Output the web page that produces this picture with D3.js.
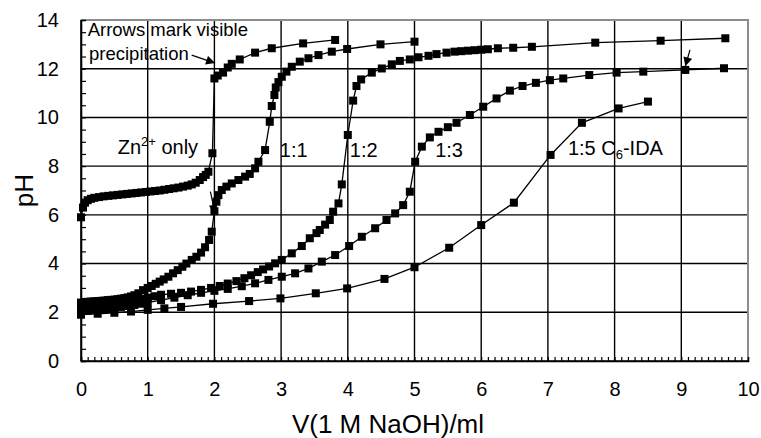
<!DOCTYPE html>
<html>
<head>
<meta charset="utf-8">
<script src="https://cdn.jsdelivr.net/npm/d3@7"></script>
<style>
  body { margin: 0; background: #fff }
  svg { display: block; font-family: "Liberation Sans", Arial, sans-serif }
</style>
</head>
<body>
<svg width="761" height="438"></svg>
<script>
// titration curves, pH vs volume of 1 M NaOH
var znX  = [0, 0.03, 0.06, 0.1, 0.15, 0.2, 0.27, 0.34, 0.41, 0.48, 0.55, 0.62, 0.69, 0.76, 0.83, 0.9, 0.97, 1.04, 1.11, 1.18, 1.25, 1.32, 1.39, 1.46, 1.53, 1.6, 1.66, 1.72, 1.78, 1.83, 1.87, 1.91, 1.97,
            2.0, 2.05, 2.13, 2.2, 2.26, 2.38, 2.61, 2.86, 3.33, 3.81]
var znY  = [5.9, 6.3, 6.5, 6.6, 6.66, 6.7, 6.73, 6.76, 6.78, 6.8, 6.82, 6.84, 6.86, 6.88, 6.9, 6.92, 6.94, 6.96, 6.98, 7.0, 7.03, 7.06, 7.09, 7.12, 7.16, 7.2, 7.25, 7.32, 7.43, 7.55, 7.64, 7.77, 8.53,
            11.6, 11.72, 11.84, 12.05, 12.2, 12.38, 12.66, 12.84, 13.04, 13.18]

var r1X = [0, 0.05, 0.1, 0.15, 0.2, 0.25, 0.3, 0.35, 0.4, 0.45, 0.5, 0.55, 0.6, 0.65, 0.7, 0.75, 0.8, 0.86, 0.93, 1.0, 1.06, 1.12, 1.18, 1.24, 1.31, 1.38, 1.45, 1.52, 1.58, 1.66, 1.73, 1.8, 1.86, 1.92, 1.96,
           2.0, 2.03, 2.06, 2.11, 2.18, 2.26, 2.36, 2.46, 2.53, 2.61, 2.66, 2.76, 2.83, 2.86, 2.9, 2.92, 2.96, 3.01, 3.08, 3.16, 3.28, 3.41, 3.56, 3.76, 3.99, 4.49, 5.0]
var r1Y = [2.4, 2.42, 2.43, 2.44, 2.45, 2.46, 2.47, 2.48, 2.5, 2.51, 2.52, 2.54, 2.56, 2.58, 2.61, 2.65, 2.7, 2.78, 2.91, 3.0, 3.08, 3.17, 3.26, 3.35, 3.46, 3.6, 3.73, 3.87, 4.0, 4.15, 4.28, 4.45, 4.67, 4.97, 5.31,
           6.15, 6.54, 6.81, 7.02, 7.16, 7.29, 7.43, 7.57, 7.68, 7.91, 8.18, 8.66, 9.82, 10.47, 10.92, 11.23, 11.45, 11.67, 11.88, 12.08, 12.29, 12.43, 12.56, 12.7, 12.81, 13.0, 13.11]

var r2X = [0, 0.1, 0.2, 0.3, 0.4, 0.5, 0.6, 0.7, 0.8, 0.9, 1.0, 1.1, 1.2, 1.35, 1.5, 1.65, 1.8, 1.95, 2.08, 2.2, 2.33, 2.45, 2.55, 2.65, 2.73, 2.82, 2.91, 3.01, 3.16, 3.31, 3.43, 3.53, 3.58, 3.66, 3.73, 3.78, 3.86, 3.91,
           4.0, 4.08, 4.13, 4.2, 4.36, 4.51, 4.66, 4.78, 4.93, 5.06, 5.21, 5.33, 5.48, 5.6, 5.7, 5.8, 5.9, 6.0, 6.1, 6.25, 6.48, 6.76, 7.71, 8.69, 9.66]
var r2Y = [2.3, 2.32, 2.34, 2.36, 2.38, 2.4, 2.43, 2.46, 2.5, 2.55, 2.6, 2.66, 2.72, 2.76, 2.8, 2.85, 2.92, 3.0, 3.08, 3.18, 3.28, 3.4, 3.52, 3.65, 3.76, 3.88, 4.01, 4.15, 4.42, 4.72, 5.04, 5.25, 5.38, 5.6, 5.79, 6.13, 6.47, 7.25,
           9.28, 10.69, 11.29, 11.56, 11.84, 12.01, 12.18, 12.32, 12.38, 12.47, 12.53, 12.6, 12.66, 12.7, 12.72, 12.74, 12.76, 12.78, 12.8, 12.84, 12.86, 12.9, 13.07, 13.15, 13.25]

var r3X = [0, 0.1, 0.2, 0.3, 0.4, 0.5, 0.6, 0.7, 0.8, 0.9, 1.0, 1.2, 1.4, 1.6, 1.8, 2.0, 2.2, 2.41, 2.61, 2.81, 3.01, 3.21, 3.41, 3.61, 3.81, 4.02, 4.21, 4.41, 4.58, 4.71, 4.83, 4.93,
           5.01, 5.11, 5.23, 5.36, 5.5, 5.63, 5.83, 6.03, 6.23, 6.43, 6.62, 6.82, 7.03, 7.23, 7.62, 8.03, 8.43, 9.06, 9.64]
var r3Y = [2.05, 2.07, 2.1, 2.12, 2.15, 2.18, 2.22, 2.26, 2.3, 2.35, 2.4, 2.5, 2.6, 2.7, 2.8, 2.88, 2.96, 3.07, 3.19, 3.33, 3.46, 3.6, 3.8, 4.08, 4.35, 4.72, 5.1, 5.45, 5.79, 6.06, 6.4, 6.95,
           8.18, 8.8, 9.18, 9.41, 9.6, 9.78, 10.1, 10.44, 10.78, 11.1, 11.29, 11.42, 11.53, 11.6, 11.74, 11.84, 11.88, 11.95, 12.02]

var r5X = [0, 0.25, 0.5, 0.75, 1.0, 1.25, 1.5, 1.98, 2.52, 2.99, 3.52, 3.99, 4.55, 5.0, 5.52, 6.0, 6.49, 7.04, 7.51, 8.06, 8.5]
var r5Y = [1.9, 1.94, 1.98, 2.03, 2.1, 2.16, 2.22, 2.35, 2.46, 2.57, 2.78, 2.98, 3.37, 3.85, 4.65, 5.58, 6.5, 8.46, 9.78, 10.37, 10.65]

var xTicks = [0, 1, 2, 3, 4, 5, 6, 7, 8, 9, 10]
var yTicks = [0, 2, 4, 6, 8, 10, 12, 14]

var svg = d3.select('svg')
  , pl = 81, pr = 748, pt = 20, pb = 361

var x = d3.scaleLinear().domain([0, 10]).range([pl, pr])
var y = d3.scaleLinear().domain([0, 14]).range([pb, pt])

// grid
svg.append('g').selectAll('line').data(xTicks.slice(1, -1)).enter().append('line')
  .attr('x1', x).attr('x2', x).attr('y1', pt).attr('y2', pb)
  .attr('stroke', '#000').attr('stroke-width', 1.4)
svg.append('g').selectAll('line').data(yTicks.slice(1, -1)).enter().append('line')
  .attr('y1', y).attr('y2', y).attr('x1', pl).attr('x2', pr)
  .attr('stroke', '#000').attr('stroke-width', 1.4)

// top / right frame in grey
svg.append('path')
  .attr('d', 'M' + pl + ',' + pt + 'H' + pr + 'V' + pb)
  .attr('fill', 'none').attr('stroke', '#8c8c8c').attr('stroke-width', 2)

// minor ticks
var xMinor = d3.range(0, 100).map(function (d) { return d / 10 })
var yMinor = d3.range(0, 28).map(function (d) { return d / 2 })
svg.append('g').attr('transform', 'translate(0,' + pb + ')')
  .call(d3.axisTop(x).tickValues(xMinor).tickSize(4).tickFormat(''))
svg.append('g').attr('transform', 'translate(' + pl + ',0)')
  .call(d3.axisRight(y).tickValues(yMinor).tickSize(5).tickFormat(''))

// labelled axes
var gx = svg.append('g').attr('transform', 'translate(0,' + pb + ')')
  .call(d3.axisBottom(x).tickValues(xTicks).tickSize(0).tickPadding(21))
var gy = svg.append('g').attr('transform', 'translate(' + pl + ',0)')
  .call(d3.axisLeft(y).tickValues(yTicks).tickSize(0).tickPadding(22))
svg.selectAll('.tick line').attr('stroke', '#000').attr('stroke-width', 1.2)
svg.selectAll('.domain').attr('stroke', '#000').attr('stroke-width', 1.6)
gx.attr('font-size', 20).attr('font-family', null)
gy.attr('font-size', 20).attr('font-family', null)
gx.selectAll('text').attr('fill', '#000')
gy.selectAll('text').attr('fill', '#000')
gx.select('.domain').attr('d', 'M' + pl + ',0H' + pr)
gy.select('.domain').attr('d', 'M0,' + pt + 'V' + pb)

svg.append('text').attr('x', 388).attr('y', 433).attr('text-anchor', 'middle')
  .attr('font-size', 26).text('V(1 M NaOH)/ml')
svg.append('text').attr('transform', 'translate(33,' + ((pt + pb) / 2) + ') rotate(-90)')
  .attr('text-anchor', 'middle').attr('font-size', 26).text('pH')

// series
var series = [[znX, znY], [r1X, r1Y], [r2X, r2Y], [r3X, r3Y], [r5X, r5Y]].map(function (s) {
  return s[0].map(function (v, i) { return [v, s[1][i]] })
})
var line = d3.line().x(function (d) { return x(d[0]) }).y(function (d) { return y(d[1]) })
var plot = svg.append('g')
plot.selectAll('path').data(series).enter().append('path')
  .attr('d', line).attr('fill', 'none').attr('stroke', '#000').attr('stroke-width', 1.3)
plot.selectAll('g').data(series).enter().append('g').selectAll('rect')
  .data(function (d) { return d }).enter().append('rect')
  .attr('x', function (d) { return x(d[0]) - 4 }).attr('y', function (d) { return y(d[1]) - 4 })
  .attr('width', 8).attr('height', 8).attr('fill', '#000')

// labels
var zn = svg.append('text').attr('x', x(0.55)).attr('y', y(8.5)).attr('font-size', 20)
zn.append('tspan').text('Zn')
zn.append('tspan').attr('font-size', 13).attr('dy', -8).text('2+')
zn.append('tspan').attr('dy', 8).text(' only')
svg.append('text').attr('x', x(2.98)).attr('y', y(8.38)).attr('font-size', 20).text('1:1')
svg.append('text').attr('x', x(4.03)).attr('y', y(8.38)).attr('font-size', 20).text('1:2')
svg.append('text').attr('x', x(5.31)).attr('y', y(8.38)).attr('font-size', 20).text('1:3')
var c6 = svg.append('text').attr('x', x(7.3)).attr('y', y(8.45)).attr('font-size', 20)
c6.append('tspan').text('1:5 C')
c6.append('tspan').attr('font-size', 13).attr('dy', 4).text('6')
c6.append('tspan').attr('dy', -4).text('-IDA')

svg.append('text').attr('x', x(0.1)).attr('y', y(13.35)).attr('font-size', 18.5).text('Arrows mark visible')
svg.append('text').attr('x', x(0.12)).attr('y', y(12.36)).attr('font-size', 18.5).text('precipitation')

// arrows
svg.append('defs').append('marker').attr('id', 'ah')
  .attr('viewBox', '0 0 10 10').attr('refX', 10).attr('refY', 5)
  .attr('markerWidth', 10).attr('markerHeight', 9).attr('markerUnits', 'userSpaceOnUse')
  .attr('orient', 'auto')
  .append('path').attr('d', 'M0,0L10,5L0,10z').attr('fill', '#000')
var arrows = [[[1.66, 12.56], [2.01, 12.23]], [[1.94, 6.95], [2.01, 6.05]], [[9.13, 12.77], [9.06, 12.1]]]
svg.append('g').selectAll('path').data(arrows).enter().append('path')
  .attr('d', line).attr('stroke', '#000').attr('stroke-width', 1.2).attr('fill', 'none')
  .attr('marker-end', 'url(#ah)')
</script>
</body>
</html>
